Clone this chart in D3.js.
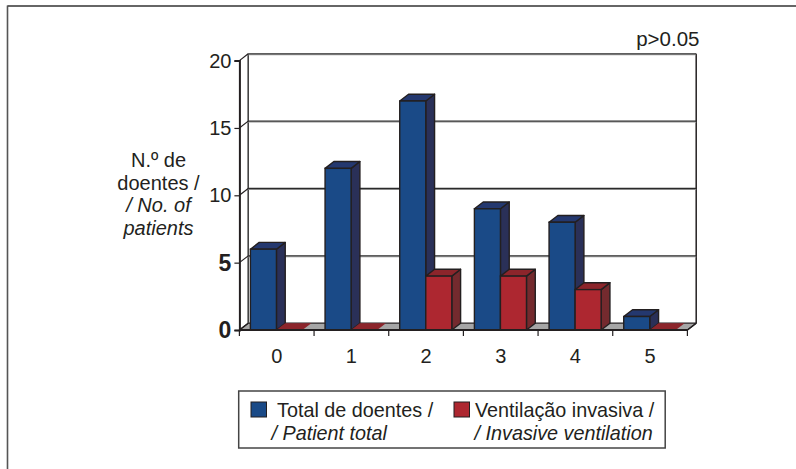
<!DOCTYPE html>
<html><head><meta charset="utf-8">
<script src="https://cdn.jsdelivr.net/npm/d3@7/dist/d3.min.js"></script>
<style>html,body{margin:0;padding:0;background:#fff}svg{display:block}text{font-family:"Liberation Sans",Arial,sans-serif;fill:#231f20}</style>
</head><body><svg id="c" width="796" height="469"></svg>
<script>
const categories = ["0","1","2","3","4","5"];
const totalPatients = [6,12,17,9,8,1];
const invasiveVentilation = [0,0,4,4,3,0];
const yTicks = [0,5,10,15,20];
const boldTicks = [0,5];
const yTitle = [["N.º de",false],["doentes /",false],["/ No. of",true],["patients",true]];
const seriesStyles = [
 {values:totalPatients,front:"#1a4a87",side:"#2a3058",top:"#24386f"},
 {values:invasiveVentilation,front:"#ad2730",side:"#742a2e",top:"#8c252b"}
];
const svg = d3.select("#c");
const ink="#231f20";
const L=239.4,R=687.4,B=330,T=60.6,dx=8.8,dy=6.8;
const x=d3.scaleBand().domain(categories).range([L,R]);
const y=d3.scaleLinear().domain([0,20]).range([B,T]);
const inner=d3.scaleBand().domain([0,1]).range([11,x.bandwidth()-11.6]);
const poly=(pts,fill,sw=1.4)=>svg.append("polygon").attr("points",pts.map(p=>p.join(",")).join(" "))
  .attr("fill",fill).attr("stroke",ink).attr("stroke-width",sw).attr("stroke-linejoin","round");
const line=(x1,y1,x2,y2,w=1.4,c=ink)=>svg.append("line").attr("x1",x1).attr("y1",y1).attr("x2",x2).attr("y2",y2).attr("stroke",c).attr("stroke-width",w);

// outer frame
line(7.5,6,796,6,1.5,"#333");
line(7.5,5.5,7.5,469,1.6,"#555");

// walls and floor
poly([[L,B],[L+dx,B-dy],[R+dx,B-dy],[R,B]],"#a6a6a6",1.2);
line(L+dx,T-dy,L+dx,B-dy,1.6,"#444");
line(R+dx,T-dy,R+dx,B-dy,1.5);
// gridlines on back wall, tick connectors on side wall
yTicks.filter(d=>d>0).forEach(d=>{
  line(L+dx,y(d)-dy+1,R+dx,y(d)-dy+1,1,"#aaa");
  line(L+dx,y(d)-dy,R+dx,y(d)-dy,1.3,"#2a2a2a");
});
yTicks.forEach(d=>line(L,y(d),L+dx,y(d)-dy,1.2));

// bars
categories.forEach((c,i)=>{
  seriesStyles.forEach((s,j)=>{
    const v=s.values[i], x0=x(c)+inner(j), x1=x0+inner.bandwidth(), yv=y(v);
    if(v>0){
      poly([[x1,yv],[x1+dx,yv-dy],[x1+dx,B-dy],[x1,B]],s.side);
      poly([[x0,yv],[x0+dx,yv-dy],[x1+dx,yv-dy],[x1,yv]],s.top);
      svg.append("rect").attr("x",x0).attr("y",yv).attr("width",x1-x0).attr("height",B-yv)
        .attr("fill",s.front).attr("stroke",ink).attr("stroke-width",1.4);
    } else {
      svg.append("polygon").attr("points",[[x0,B],[x0+dx,B-dy],[x1+dx,B-dy],[x1,B]].map(p=>p.join(",")).join(" "))
        .attr("fill",s.top);
    }
  });
});

// axes
const yAxis=svg.append("g").attr("transform",`translate(${L},0)`)
  .call(d3.axisLeft(y).tickValues(yTicks).tickSize(5).tickPadding(3).tickFormat(d3.format("d")));
yAxis.select(".domain").attr("stroke",ink).attr("stroke-width",2);
yAxis.selectAll(".tick line").attr("stroke",ink).attr("stroke-width",1.2);
yAxis.selectAll("text").style("font-family",'"Liberation Sans",Arial,sans-serif')
  .style("font-size",d=>boldTicks.includes(d)?"23px":"20px")
  .style("font-weight",d=>boldTicks.includes(d)?"bold":"normal")
  .attr("fill",ink);
const xAxis=svg.append("g").attr("transform",`translate(0,${B})`)
  .call(d3.axisBottom(x).tickSize(0).tickPadding(19));
xAxis.select(".domain").remove();
xAxis.selectAll("text").style("font-family",'"Liberation Sans",Arial,sans-serif').style("font-size","20px").attr("fill",ink);
line(L,B,R,B,1.8);
line(R,B,R+dx,B-dy,1.3);
x.domain().concat("end").forEach((c)=>{
  const px=c==="end"?R:x(c);
  line(px,B,px,B+6,1.2);
});

// annotation
svg.append("text").attr("x",699.5).attr("y",46).attr("text-anchor","end").style("font-size","20.5px").text("p>0.05");

// y title
yTitle.forEach(([t,it],i)=>svg.append("text").attr("x",158.5).attr("y",167+i*22.7).attr("text-anchor","middle")
  .style("font-size","20px").style("font-style",it?"italic":"normal").text(t));

// legend
svg.append("rect").attr("x",238.7).attr("y",391).attr("width",426.5).attr("height",57).attr("fill","#fff").attr("stroke","#444").attr("stroke-width",1.5);
const legendRows=[
 {c:seriesStyles[0].front,sx:251,l1:"Total de doentes /",x1:277,l2:"/ Patient total",x2:271.5},
 {c:seriesStyles[1].front,sx:454,l1:"Ventilação invasiva /",x1:475,l2:"/ Invasive ventilation",x2:474.5}
];
legendRows.forEach(r=>{
  svg.append("rect").attr("x",r.sx).attr("y",402).attr("width",15.5).attr("height",15).attr("fill",r.c).attr("stroke",ink).attr("stroke-width",1);
  svg.append("text").attr("x",r.x1).attr("y",417).style("font-size","19.8px").text(r.l1);
  svg.append("text").attr("x",r.x2).attr("y",439.5).style("font-size","19.8px").style("font-style","italic").text(r.l2);
});
</script></body></html>
